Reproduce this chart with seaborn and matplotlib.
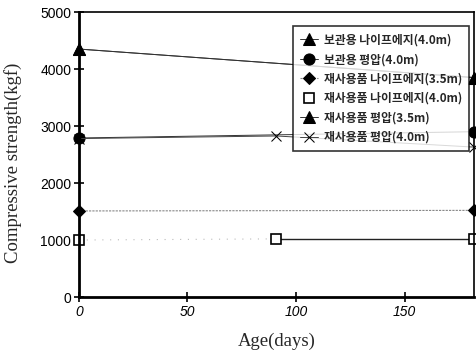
import matplotlib
matplotlib.use("Agg")
import matplotlib.pyplot as plt
import seaborn as sns
import pandas as pd

sns.set_theme(style="white")
plt.rcParams['font.family'] = ['Liberation Sans', 'Noto Sans CJK KR', 'DejaVu Sans']

series_names = ["보관용 나이프에지(4.0m)", "보관용 평압(4.0m)", "재사용품 나이프에지(3.5m)",
                "재사용품 나이프에지(4.0m)", "재사용품 평압(3.5m)", "재사용품 평압(4.0m)"]
days_a = [0, 182]
days_b = [0, 91, 182]
s1 = [4350, 3850]
s2 = [2790, 2900]
s3 = [1510, 1520]
s4 = [1000, 1020, 1020]
s5 = [4350, 3850]
s6 = [2780, 2825, 2630]

xticks = [0, 50, 100, 150]
yticks = [0, 1000, 2000, 3000, 4000, 5000]

fig = plt.figure(figsize=(4.77, 3.51), dpi=100)
ax = fig.add_axes([0.1656, 0.1538, 0.828, 0.812])

styles = [
    dict(x=days_a, y=s1, marker="^", color="#333333", lw=0.7, ms=8, mfc="black", ls="-"),
    dict(x=days_a, y=s2, marker="o", color="#333333", lw=0.7, ms=8, mfc="black", ls="-"),
    dict(x=days_a, y=s3, marker="D", color="#888888", lw=0.8, ms=6.5, mfc="black", ls=(0, (2, 1))),
    dict(x=days_b, y=s4, marker="s", color="#222222", lw=1.0, ms=7, mfc="white", ls="-"),
    dict(x=days_a, y=s5, marker="^", color="#333333", lw=0.7, ms=8, mfc="black", ls="-"),
    dict(x=days_b, y=s6, marker="x", color="#444444", lw=0.7, ms=7, mfc="black", ls="-"),
]
for name, st in zip(series_names, styles):
    df = pd.DataFrame({"x": st["x"], "y": st["y"]})
    if st["marker"] == "s":
        seg1 = pd.DataFrame({"x": st["x"][:2], "y": st["y"][:2]})
        sns.lineplot(data=seg1, x="x", y="y", ax=ax, color="#bbbbbb", linewidth=0.8,
                     linestyle=(0, (1, 6)))
        sns.lineplot(data=df, x="x", y="y", ax=ax, label=name, color=st["color"], marker=st["marker"],
                     linewidth=0, markersize=st["ms"], markerfacecolor=st["mfc"],
                     markeredgecolor="black", markeredgewidth=1.2, clip_on=False)
        seg2 = pd.DataFrame({"x": st["x"][1:], "y": st["y"][1:]})
        sns.lineplot(data=seg2, x="x", y="y", ax=ax, color=st["color"], linewidth=st["lw"], zorder=1)
        continue
    sns.lineplot(data=df, x="x", y="y", ax=ax, label=name, color=st["color"], marker=st["marker"],
                 linewidth=st["lw"], markersize=st["ms"], markerfacecolor=st["mfc"],
                 markeredgecolor="black", linestyle=st["ls"], clip_on=False)

ax.set_xlim(0, 182)
ax.set_ylim(0, 5000)
ax.set_xticks(xticks)
ax.set_yticks(yticks)
ax.set_xticklabels([str(t) for t in xticks], fontstyle="italic", fontsize=10)
ax.set_yticklabels([str(t) for t in yticks], fontsize=10)
ax.tick_params(direction="inout", length=7, width=1.2, colors="black", pad=2)
ax.tick_params(axis="x", bottom=True)
ax.tick_params(axis="y", left=True)
for side in ["left", "bottom"]:
    ax.spines[side].set_linewidth(2.0)
    ax.spines[side].set_color("black")
for side in ["top", "right"]:
    ax.spines[side].set_linewidth(1.2)
    ax.spines[side].set_color("black")

ax.set_xlabel("Age(days)", family="Liberation Serif", fontsize=13.5, labelpad=10)
ax.set_ylabel("Compressive strength(kgf)", family="Liberation Serif", fontsize=13.5)
ax.yaxis.set_label_coords(-0.145, 0.47)

leg = ax.legend(loc="upper right", bbox_to_anchor=(1.003, 0.97), frameon=True, fancybox=False,
                edgecolor="black", handlelength=1.5, handletextpad=0.5,
                labelspacing=0.55, borderpad=0.6,
                prop={"family": ["Noto Sans CJK KR", "DejaVu Sans"], "size": 8.5, "weight": "bold"})
leg.get_frame().set_linewidth(1.2)

fig.savefig("out.png", dpi=100)
